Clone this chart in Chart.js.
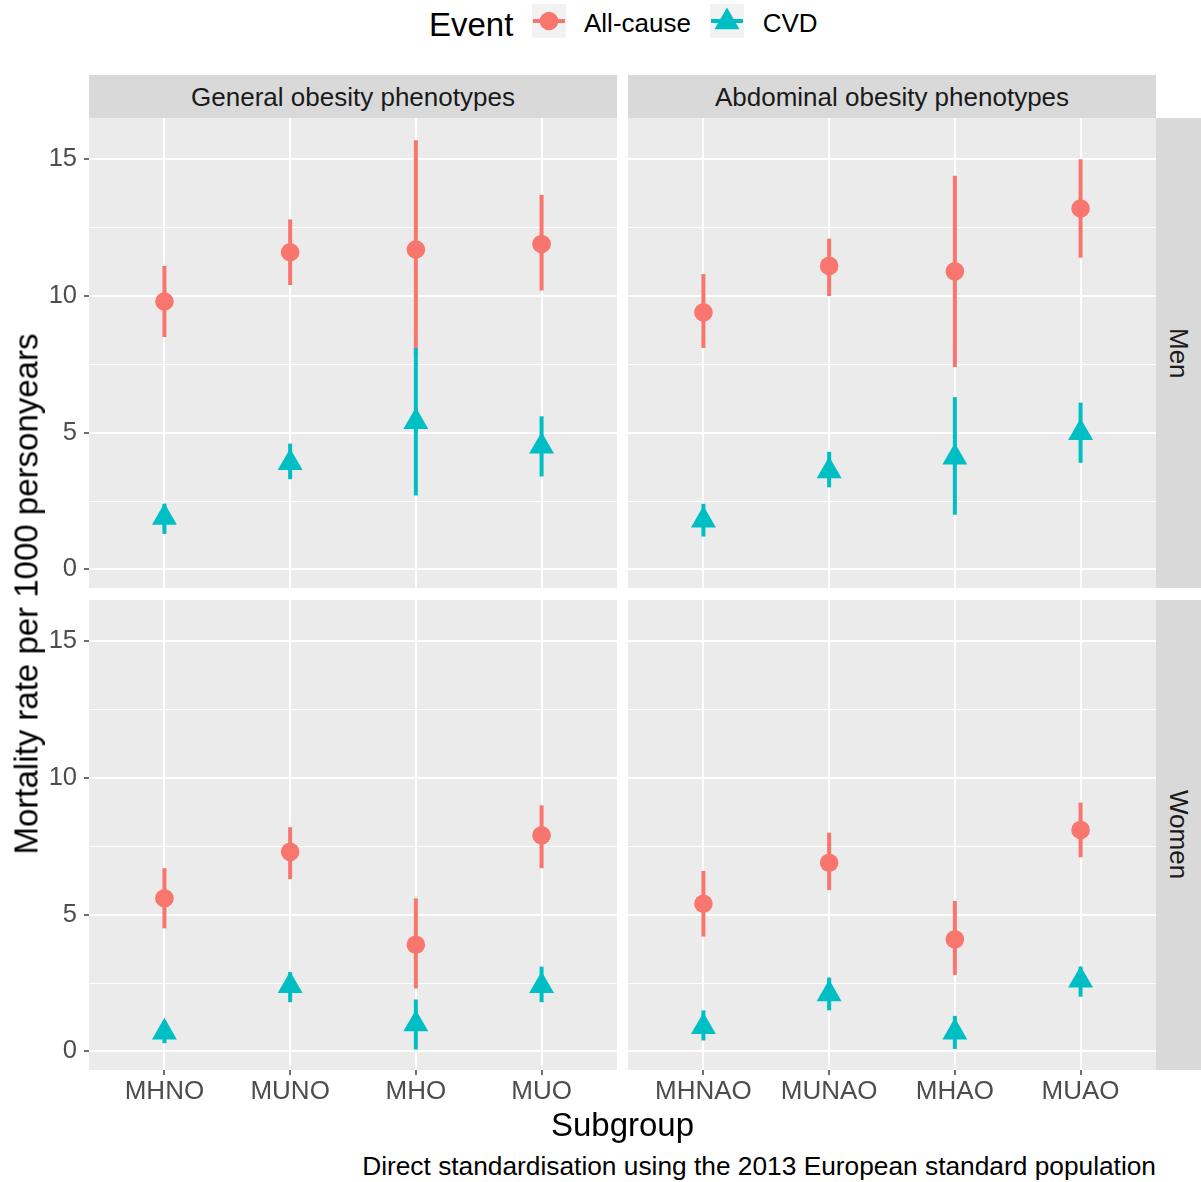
<!DOCTYPE html>
<html><head><meta charset="utf-8">
<script src="https://cdn.jsdelivr.net/npm/chart.js@4.4.1/dist/chart.umd.min.js"></script>
<style>
body{margin:0;background:#fff;}
#root{position:relative;width:1201px;height:1182px;overflow:hidden;font-family:"Liberation Sans",Arial,sans-serif;background:#fff;}
.box{position:absolute;}
.t{position:absolute;line-height:1;white-space:nowrap;}
.strip{position:absolute;background:#D9D9D9;color:#1A1A1A;font-size:26px;display:flex;align-items:center;justify-content:center;line-height:1;white-space:nowrap;}
.vstrip{writing-mode:vertical-rl;}
</style></head>
<body><div id="root">
  <div class="t" style="left:429px;top:7.6px;font-size:33px;color:#000">Event</div>
  <svg class="box" style="left:532px;top:4px" width="34" height="34">
    <rect x="0" y="0" width="34" height="34" fill="#F2F2F2"/>
    <rect x="1" y="15" width="32" height="4" fill="#F8766D"/>
    <circle cx="17" cy="17" r="9.3" fill="#F8766D"/>
  </svg>
  <div class="t" style="left:584px;top:10.3px;font-size:26px;color:#000">All-cause</div>
  <svg class="box" style="left:710px;top:4px" width="34" height="34">
    <rect x="0" y="0" width="34" height="34" fill="#F2F2F2"/>
    <rect x="1" y="15" width="32" height="4" fill="#00BFC4"/>
    <polygon points="17,3.6 29.5,25.2 4.5,25.2" fill="#00BFC4"/>
  </svg>
  <div class="t" style="left:762.7px;top:10.3px;font-size:26px;color:#000">CVD</div>

  <div class="strip" style="left:89px;top:75px;width:528px;height:43px">General obesity phenotypes</div>
  <div class="strip" style="left:628px;top:75px;width:528px;height:43px">Abdominal obesity phenotypes</div>
  <div class="strip vstrip" style="left:1156px;top:118px;width:45px;height:470px">Men</div>
  <div class="strip vstrip" style="left:1156px;top:600px;width:45px;height:470px">Women</div>

  <div class="box" style="left:39px;top:118px;width:578px;height:470px"><canvas id="c1"></canvas></div>
  <div class="box" style="left:628px;top:118px;width:528px;height:470px"><canvas id="c2"></canvas></div>
  <div class="box" style="left:39px;top:600px;width:578px;height:515px"><canvas id="c3"></canvas></div>
  <div class="box" style="left:628px;top:600px;width:528px;height:515px"><canvas id="c4"></canvas></div>

  <div class="t" style="left:25.5px;top:594px;font-size:33px;color:#000;transform:translate(-50%,-50%) rotate(-90deg)">Mortality rate per 1000 personyears</div>
  <div class="t" style="left:622.5px;top:1108px;font-size:33px;color:#000;transform:translateX(-50%)">Subgroup</div>
  <div class="t" style="right:45px;top:1153px;font-size:26.3px;color:#000">Direct standardisation using the 2013 European standard population</div>
</div>
<script>
// ---- categories & ticks ----
const groupsGeneral = ['MHNO', 'MUNO', 'MHO', 'MUO'];
const groupsAbdominal = ['MHNAO', 'MUNAO', 'MHAO', 'MUAO'];
const yMajorTicks = [0, 5, 10, 15];
const yMinorTicks = [2.5, 7.5, 12.5];

// ---- Men, general obesity phenotypes ----
const menGenAllRate = [9.8, 11.6, 11.7, 11.9];
const menGenAllLo   = [8.5, 10.4, 7.8, 10.2];
const menGenAllHi   = [11.1, 12.8, 15.7, 13.7];
const menGenCvdRate = [1.9, 3.9, 5.4, 4.5];
const menGenCvdLo   = [1.3, 3.3, 2.7, 3.4];
const menGenCvdHi   = [2.4, 4.6, 8.1, 5.6];

// ---- Men, abdominal obesity phenotypes ----
const menAbdAllRate = [9.4, 11.1, 10.9, 13.2];
const menAbdAllLo   = [8.1, 10.0, 7.4, 11.4];
const menAbdAllHi   = [10.8, 12.1, 14.4, 15.0];
const menAbdCvdRate = [1.8, 3.6, 4.1, 5.0];
const menAbdCvdLo   = [1.2, 3.0, 2.0, 3.9];
const menAbdCvdHi   = [2.4, 4.3, 6.3, 6.1];

// ---- Women, general obesity phenotypes ----
const womGenAllRate = [5.6, 7.3, 3.9, 7.9];
const womGenAllLo   = [4.5, 6.3, 2.3, 6.7];
const womGenAllHi   = [6.7, 8.2, 5.6, 9.0];
const womGenCvdRate = [0.7, 2.4, 1.0, 2.4];
const womGenCvdLo   = [0.3, 1.8, 0.07, 1.8];
const womGenCvdHi   = [1.1, 2.9, 1.9, 3.1];

// ---- Women, abdominal obesity phenotypes ----
const womAbdAllRate = [5.4, 6.9, 4.1, 8.1];
const womAbdAllLo   = [4.2, 5.9, 2.8, 7.1];
const womAbdAllHi   = [6.6, 8.0, 5.5, 9.1];
const womAbdCvdRate = [0.9, 2.1, 0.7, 2.6];
const womAbdCvdLo   = [0.4, 1.5, 0.09, 2.0];
const womAbdCvdHi   = [1.5, 2.7, 1.3, 3.1];

const RED = '#F8766D';
const CYAN = '#00BFC4';
const FONT = "'Liberation Sans', Arial, sans-serif";

const panelBg = {
  id: 'panelBg',
  beforeDraw(chart) {
    const {ctx, chartArea: a} = chart;
    ctx.save();
    ctx.fillStyle = '#EBEBEB';
    ctx.fillRect(a.left, a.top, a.right - a.left, a.bottom - a.top);
    ctx.restore();
  }
};

function isMajor(v) { return yMajorTicks.indexOf(v) !== -1; }
function noPad(s) { s.paddingTop = 0; s.paddingBottom = 0; s.paddingLeft = 0; s.paddingRight = 0; }

function makePanel(id, cats, allRate, allLo, allHi, cvdRate, cvdLo, cvdHi, showX, showY) {
  const datasets = [
    { type: 'bar', label: 'All-cause CI', data: cats.map((c, i) => ({x: i, y: [allLo[i], allHi[i]]})),
      backgroundColor: RED, borderWidth: 0, barThickness: 4, grouped: false, inflateAmount: 0, order: 3 },
    { type: 'bar', label: 'CVD CI', data: cats.map((c, i) => ({x: i, y: [cvdLo[i], cvdHi[i]]})),
      backgroundColor: CYAN, borderWidth: 0, barThickness: 4, grouped: false, inflateAmount: 0, order: 2 },
    { type: 'scatter', label: 'All-cause', data: cats.map((c, i) => ({x: i, y: allRate[i]})),
      pointStyle: 'circle', pointRadius: 9.3, pointHoverRadius: 9.3, backgroundColor: RED, borderWidth: 0, order: 1 },
    { type: 'scatter', label: 'CVD', data: cats.map((c, i) => ({x: i, y: cvdRate[i]})),
      pointStyle: 'triangle', pointRadius: 14.4, pointHoverRadius: 14.4, backgroundColor: CYAN, borderWidth: 0, order: 0 }
  ];
  return new Chart(document.getElementById(id), {
    type: 'scatter',
    data: { datasets },
    plugins: [panelBg],
    options: {
      responsive: true, maintainAspectRatio: false, animation: false, devicePixelRatio: 1,
      layout: { padding: 0, autoPadding: false },
      events: [],
      plugins: { legend: { display: false }, tooltip: { enabled: false } },
      scales: {
        x: {
          type: 'linear', min: -0.6, max: 3.6, offset: false,
          afterBuildTicks: s => { s.ticks = cats.map((c, i) => ({value: i})); },
          afterFit: s => { s.height = showX ? 45 : 0; noPad(s); },
          border: { display: false },
          grid: { color: '#FFFFFF', lineWidth: 2, offset: false, drawTicks: showX, tickLength: 5,
                  tickColor: '#333333', tickWidth: 1.4 },
          ticks: { display: showX, autoSkip: false, maxRotation: 0, minRotation: 0, padding: 1,
                   color: '#4D4D4D', font: { family: FONT, size: 26 },
                   callback: v => (cats[v] !== undefined ? cats[v] : '') }
        },
        y: {
          type: 'linear', min: -0.68, max: 16.51,
          afterBuildTicks: s => {
            s.ticks = yMajorTicks.concat(yMinorTicks).sort((a, b) => a - b).map(v => ({value: v}));
          },
          afterFit: s => { s.width = showY ? 50 : 0; noPad(s); },
          border: { display: false },
          grid: { color: '#FFFFFF',
                  lineWidth: c => (c.tick && isMajor(c.tick.value) ? 2 : 1),
                  drawTicks: showY, tickLength: 5,
                  tickColor: c => (c.tick && isMajor(c.tick.value) ? '#333333' : 'rgba(0,0,0,0)'),
                  tickWidth: 1.4 },
          ticks: { display: showY, padding: 7, color: '#4D4D4D', font: { family: FONT, size: 25.5 },
                   callback: v => (isMajor(v) ? String(v) : '') }
        }
      }
    }
  });
}

makePanel('c1', groupsGeneral, menGenAllRate, menGenAllLo, menGenAllHi, menGenCvdRate, menGenCvdLo, menGenCvdHi, false, true);
makePanel('c2', groupsAbdominal, menAbdAllRate, menAbdAllLo, menAbdAllHi, menAbdCvdRate, menAbdCvdLo, menAbdCvdHi, false, false);
makePanel('c3', groupsGeneral, womGenAllRate, womGenAllLo, womGenAllHi, womGenCvdRate, womGenCvdLo, womGenCvdHi, true, true);
makePanel('c4', groupsAbdominal, womAbdAllRate, womAbdAllLo, womAbdAllHi, womAbdCvdRate, womAbdCvdLo, womAbdCvdHi, true, false);
</script>
</body></html>
